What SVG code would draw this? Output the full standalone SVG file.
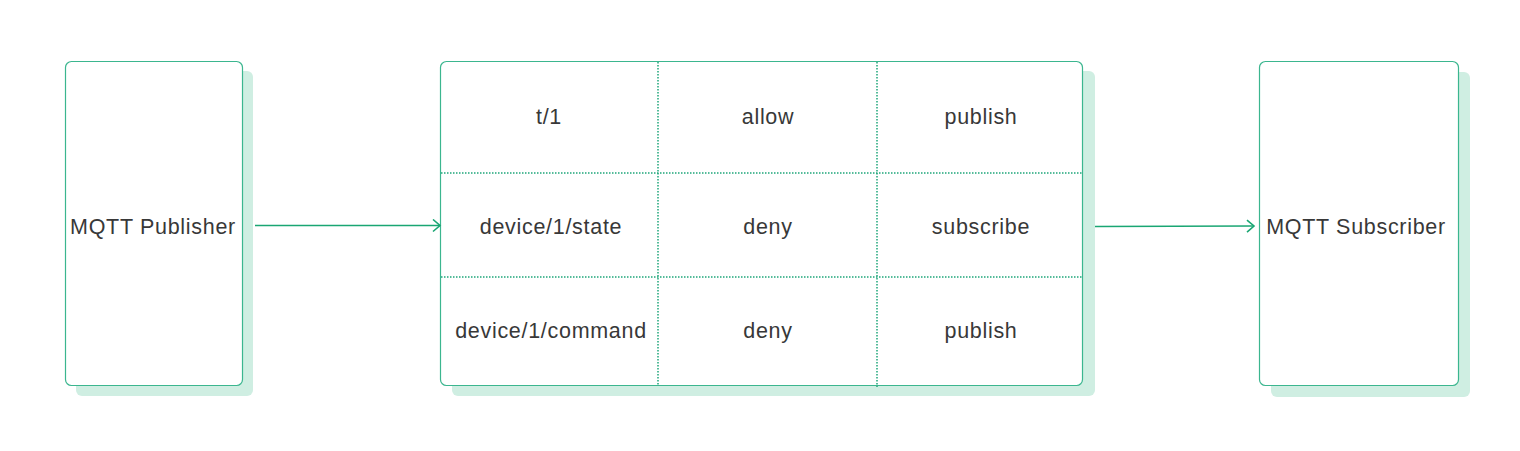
<svg xmlns="http://www.w3.org/2000/svg" width="1520" height="451" viewBox="0 0 1520 451">
<defs>
<style>
.shadow{fill:#cfeee2;}
.box{fill:#ffffff;stroke:#3bb68f;stroke-width:1.2;}
.div{stroke:#1ea67a;stroke-width:1.5;stroke-dasharray:1.5 1.5;fill:none;}
.t{font-family:"Liberation Sans",Arial,sans-serif;font-size:21.5px;letter-spacing:0.7px;fill:#383838;text-anchor:middle;dominant-baseline:central;}
.conn{stroke:#1aa673;stroke-width:1.6;fill:none;}
</style>
<marker id="arr" markerWidth="12" markerHeight="14" refX="10" refY="7" orient="auto" markerUnits="userSpaceOnUse">
<path d="M3,1 L10,7 L3,13" fill="none" stroke="#1aa673" stroke-width="1.6"/>
</marker>
</defs>
<rect width="1520" height="451" fill="#ffffff"/>
<g id="publisher">
<rect class="shadow" x="76" y="71" width="177" height="325" rx="6"/>
<rect class="box" x="65.5" y="61.5" width="177" height="324" rx="6"/>
<text class="t" x="153" y="227">MQTT Publisher</text>
</g>
<g id="acl-table">
<rect class="shadow" x="452" y="71" width="643" height="325" rx="6"/>
<rect class="box" x="440.5" y="61.5" width="642" height="324" rx="6"/>
<line class="div" x1="658" y1="62" x2="658" y2="385"/>
<line class="div" x1="877" y1="62" x2="877" y2="387"/>
<line class="div" x1="441" y1="173" x2="1082" y2="173"/>
<line class="div" x1="441" y1="277" x2="1082" y2="277"/>
<text class="t" x="549" y="117">t/1</text>
<text class="t" x="768" y="117">allow</text>
<text class="t" x="981" y="117">publish</text>
<text class="t" x="551" y="227">device/1/state</text>
<text class="t" x="768" y="227">deny</text>
<text class="t" x="981" y="227">subscribe</text>
<text class="t" x="551" y="331">device/1/command</text>
<text class="t" x="768" y="331">deny</text>
<text class="t" x="981" y="331">publish</text>
</g>
<g id="subscriber">
<rect class="shadow" x="1271" y="72" width="199" height="325" rx="6"/>
<rect class="box" x="1259.5" y="61.5" width="199" height="324" rx="6"/>
<text class="t" x="1356" y="227">MQTT Subscriber</text>
</g>
<g id="connectors">
<line class="conn" x1="255" y1="225.5" x2="440" y2="225.5" marker-end="url(#arr)"/>
<line class="conn" x1="1095" y1="226.5" x2="1254" y2="226" marker-end="url(#arr)"/>
</g>
</svg>
